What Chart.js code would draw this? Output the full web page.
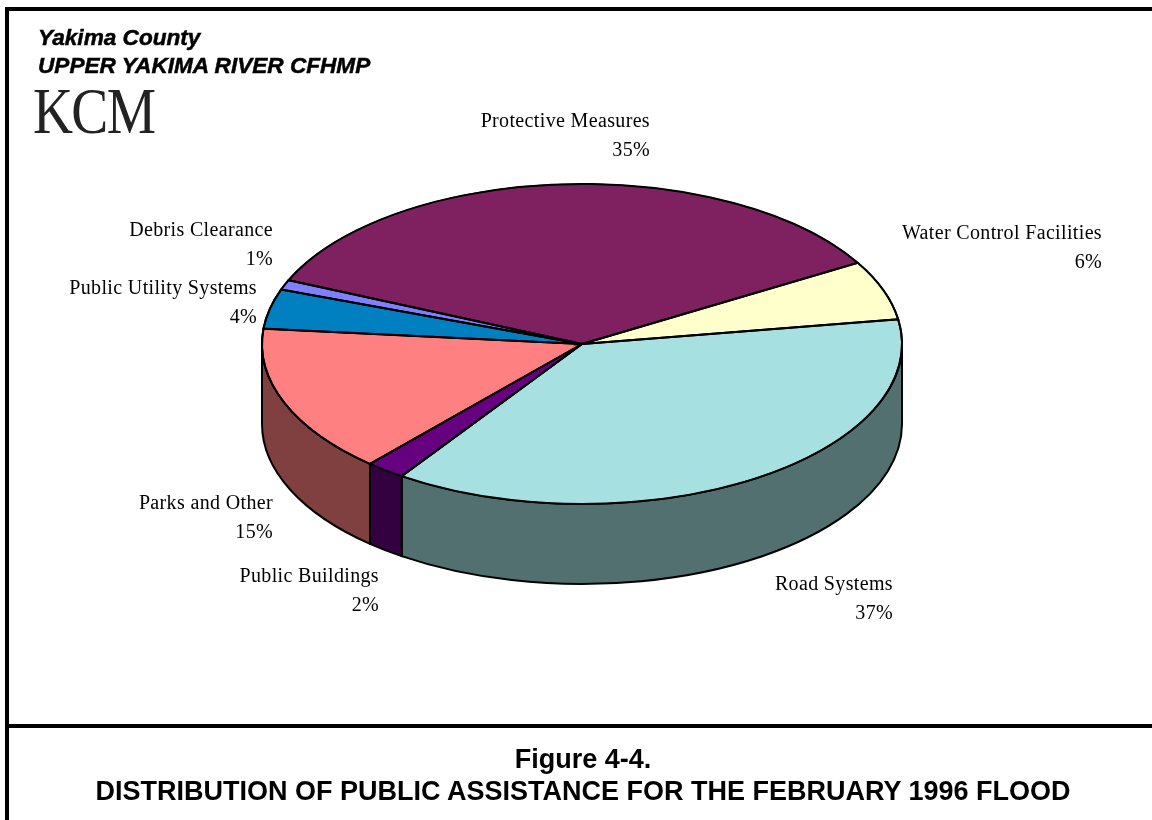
<!DOCTYPE html>
<html>
<head>
<meta charset="utf-8">
<title>Figure 4-4</title>
<script src="https://cdn.jsdelivr.net/npm/chart.js@4"></script>
<style>
  html, body { margin: 0; padding: 0; background: #fff; }
  body { width: 1152px; height: 820px; position: relative; overflow: hidden; }
  canvas { position: absolute; left: 0; top: 0; }
  .rule { position: absolute; background: #000; }
  .txt { position: absolute; white-space: nowrap; color: #000; line-height: 1; }
  .head { font: italic bold 22.6px "Liberation Sans", sans-serif; left: 38px; -webkit-text-stroke: 0.5px #000; }
  .cap { font: bold 27px "Liberation Sans", sans-serif; left: 0; width: 1166px; text-align: center; }
  #logo { font: 66px "Liberation Serif", serif; left: 33px; top: 73px; color: #222; letter-spacing: -2px;
          transform: scaleX(0.84); transform-origin: left top; }
</style>
</head>
<body>
<canvas id="chart" width="1152" height="820"></canvas>
<div class="rule" style="left:5px;top:7px;width:1147px;height:4px"></div>
<div class="rule" style="left:5px;top:7px;width:4px;height:813px"></div>
<div class="rule" style="left:5px;top:724px;width:1147px;height:4px"></div>
<div class="txt head" style="top:25px">Yakima County</div>
<div class="txt head" style="top:53px">UPPER YAKIMA RIVER CFHMP</div>
<div class="txt" id="logo">KCM</div>
<div class="txt cap" style="top:744px">Figure 4-4.</div>
<div class="txt cap" style="top:776px">DISTRIBUTION OF PUBLIC ASSISTANCE FOR THE FEBRUARY 1996 FLOOD</div>
<script>
const categories = ['Protective Measures', 'Water Control Facilities', 'Road Systems', 'Public Buildings', 'Parks and Other', 'Public Utility Systems', 'Debris Clearance'];
const percents = [35, 6, 37, 2, 15, 4, 1];
const topColors = ['#7f2060', '#ffffcc', '#a6e0e0', '#660080', '#ff8080', '#0080c0', '#8080ff'];
const sideColors = ['#401030', '#808066', '#52706f', '#330040', '#804040', '#004060', '#404080'];

// right edge and first line centre of each label
const labelSpots = [[650, 122], [1102, 234], [893, 585], [379, 577], [273, 504], [257, 289], [273, 231]];

const TILT = 0.5;    // flatten circle to ellipse
const DEPTH = 80;    // height of the side wall
const TWO_PI = Math.PI * 2;

const pie3d = {
  id: 'pie3d',
  beforeDatasetsDraw(chart) {
    const ctx = chart.ctx;
    const arcs = chart.getDatasetMeta(0).data;
    const cx = arcs[0].x, cy = arcs[0].y, r = arcs[0].outerRadius;

    // side wall: only the part of each slice facing the viewer
    ctx.save();
    ctx.lineWidth = 2;
    ctx.strokeStyle = '#000';
    arcs.forEach((arc, i) => {
      let a = arc.startAngle % TWO_PI;
      if (a < 0) a += TWO_PI;
      const b = a + (arc.endAngle - arc.startAngle);
      // front half is 0..PI, and again one turn later for slices that wrap
      [0, TWO_PI].forEach((turn) => {
        const from = Math.max(a, turn);
        const to = Math.min(b, turn + Math.PI);
        if (to <= from) return;
        ctx.beginPath();
        ctx.ellipse(cx, cy, r, r * TILT, 0, from, to);
        ctx.ellipse(cx, cy + DEPTH, r, r * TILT, 0, to, from, true);
        ctx.closePath();
        ctx.fillStyle = sideColors[i];
        ctx.fill();
        ctx.stroke();
      });
    });
    ctx.restore();

    // squash the library's own arcs
    ctx.save();
    ctx.translate(cx, cy);
    ctx.scale(1, TILT);
    ctx.translate(-cx, -cy);
  },
  afterDatasetsDraw(chart) {
    const ctx = chart.ctx;
    ctx.restore();

    // even outline over the squashed arcs
    const arcs = chart.getDatasetMeta(0).data;
    ctx.save();
    ctx.lineWidth = 2;
    ctx.strokeStyle = '#000';
    arcs.forEach((arc) => {
      ctx.beginPath();
      ctx.moveTo(arc.x, arc.y);
      ctx.ellipse(arc.x, arc.y, arc.outerRadius, arc.outerRadius * TILT, 0, arc.startAngle, arc.endAngle);
      ctx.closePath();
      ctx.stroke();
    });
    ctx.restore();

    // labels
    ctx.save();
    ctx.font = '20px "Liberation Serif", serif';
    ctx.letterSpacing = '0.35px';
    ctx.fillStyle = '#000';
    ctx.textAlign = 'right';
    ctx.textBaseline = 'middle';
    categories.forEach((name, i) => {
      const [x, y] = labelSpots[i];
      ctx.fillText(name, x, y);
      ctx.fillText(percents[i] + '%', x, y + 29);
    });
    ctx.restore();
  }
};

new Chart(document.getElementById('chart'), {
  type: 'pie',
  data: {
    labels: categories,
    datasets: [{
      data: percents,
      backgroundColor: topColors,
      borderColor: '#000',
      borderWidth: 2
    }]
  },
  options: {
    responsive: false,
    animation: false,
    rotation: 293.5,
    layout: { padding: { left: 261, right: 249, top: 23, bottom: 155 } },
    plugins: { legend: { display: false }, tooltip: { enabled: false } }
  },
  plugins: [pie3d]
});
</script>
</body>
</html>
